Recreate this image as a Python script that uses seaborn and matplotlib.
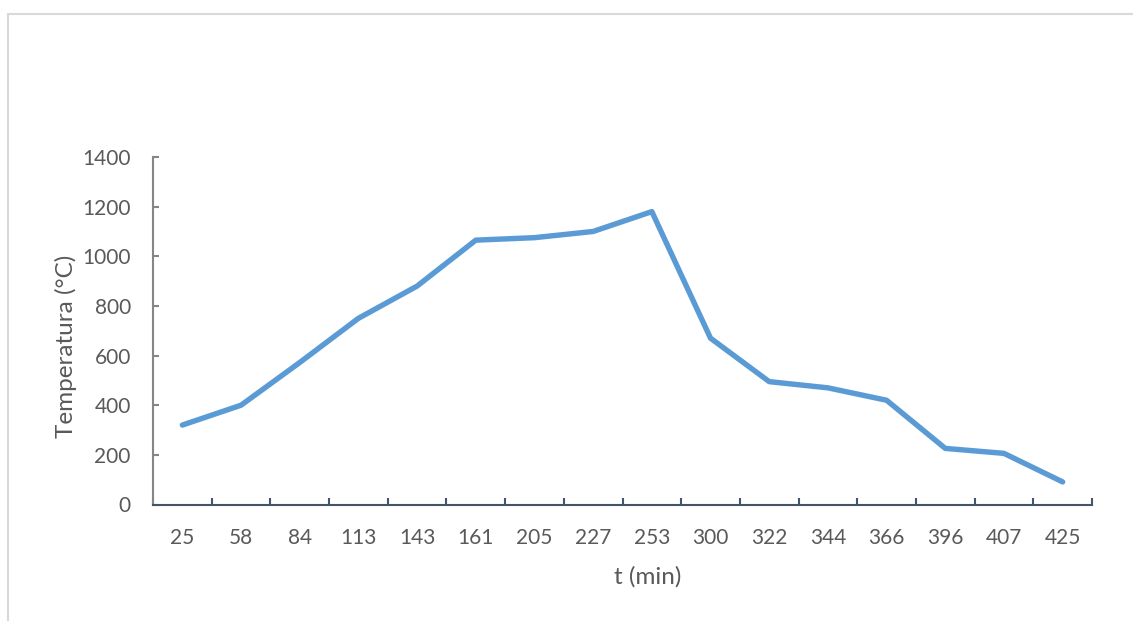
import matplotlib
matplotlib.use("Agg")
import matplotlib.pyplot as plt
from matplotlib.patches import Rectangle
from matplotlib.ticker import FixedLocator, MultipleLocator
import pandas as pd
import seaborn as sns

# Heating curve: elapsed time (min) and measured temperature (°C)
times = ["25", "58", "84", "113", "143", "161", "205", "227",
         "253", "300", "322", "344", "366", "396", "407", "425"]
temps = [320, 400, 572, 750, 880, 1065, 1075, 1100,
         1180, 670, 495, 470, 420, 226, 206, 91]

df = pd.DataFrame({"t": times, "temp": temps})

sns.set_theme(style="white")
plt.rcParams["font.family"] = ["Lato", "DejaVu Sans"]

TEXT = "#595959"
LINE = "#5B9BD5"

fig = plt.figure(figsize=(11.33, 6.21), dpi=100)
fig.patch.set_facecolor("white")

# light frame around the chart area
fig.patches.append(Rectangle((8 / 1133, -0.1), 1.2, 1 - 14 / 621 + 0.1,
                             transform=fig.transFigure, fill=False,
                             edgecolor="#D9D9D9", linewidth=1.5, zorder=0))

ax = fig.add_axes([153 / 1133, 1 - 504.5 / 621, (1092 - 153) / 1133, (504.5 - 157) / 621])

sns.lineplot(data=df, x="t", y="temp", sort=False, ax=ax, color=LINE,
             linewidth=3.9, solid_capstyle="round", solid_joinstyle="round")

n = len(times)
ax.set_xlim(-0.5, n - 0.5)
ax.set_ylim(0, 1400)
ax.yaxis.set_major_locator(MultipleLocator(200))

ax.xaxis.set_major_locator(FixedLocator(range(n)))
ax.set_xticklabels(times)
ax.xaxis.set_minor_locator(FixedLocator([i - 0.5 for i in range(n + 1)]))

for s in ("top", "right"):
    ax.spines[s].set_visible(False)
ax.spines["left"].set_color("#868686")
ax.spines["left"].set_linewidth(1.5)
ax.spines["bottom"].set_color("#44546A")
ax.spines["bottom"].set_linewidth(1.5)

ax.tick_params(axis="x", which="major", length=0, pad=17,
               labelsize=15, labelcolor=TEXT)
ax.tick_params(axis="x", which="minor", direction="in", length=5,
               width=1.5, color="#44546A", bottom=True)
ax.tick_params(axis="y", direction="in", length=4, width=1.5,
               color="#868686", pad=16, labelsize=15, labelcolor=TEXT, left=True)

ax.set_xlabel("")
ax.set_ylabel("")
fig.text(648 / 1133, 1 - 577 / 621, "t (min)", ha="center", va="center",
         fontsize=17.5, color=TEXT)
fig.text(66 / 1133, 1 - 346 / 621, "Temperatura (°C)", ha="center", va="center",
         rotation=90, fontsize=17.5, color=TEXT)

fig.savefig("out.png", dpi=100, facecolor="white")
